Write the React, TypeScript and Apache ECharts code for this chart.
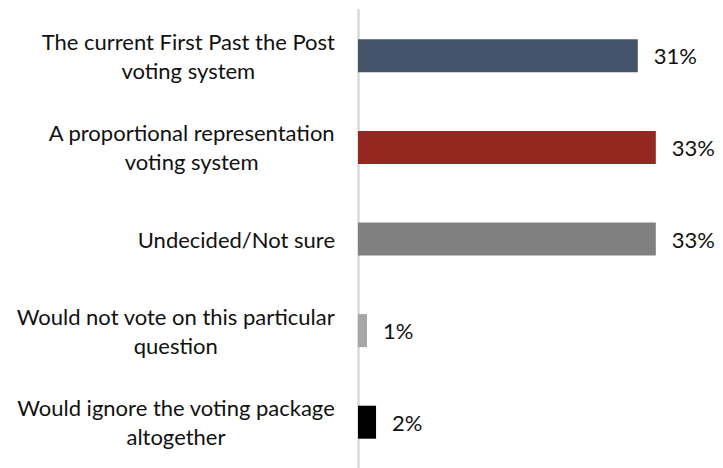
import React, { useEffect, useRef } from "react";
import * as echarts from "echarts";

const categories = [
  "The current First Past the Post\nvoting system",
  "A proportional representation\nvoting system",
  "Undecided/Not sure",
  "Would not vote on this particular\nquestion",
  "Would ignore the voting package\naltogether",
];
const values = [31, 33, 33, 1, 2];
const colors = ["#44546A", "#942720", "#808080", "#A6A6A6", "#000000"];

const FONT = "Lato";
const FS = 22;

export default function App() {
  const ref = useRef<HTMLDivElement>(null);
  useEffect(() => {
    if (!ref.current) return;
    const chart = echarts.init(ref.current, undefined, { renderer: "svg" });
    chart.setOption({
      animation: false,
      grid: { left: 358, top: 10, width: 361, height: 465, containLabel: false },
      xAxis: {
        type: "value",
        min: 0,
        max: 40,
        show: false,
      },
      yAxis: {
        type: "category",
        inverse: true,
        data: categories,
        axisLine: { show: true, lineStyle: { color: "#d9d9d9", width: 2.5 } },
        axisTick: { show: false },
        axisLabel: {
          margin: 23,
          formatter: (v: string) =>
            v
              .split("\n")
              .map((l) => `{c|${l}}`)
              .join("\n"),
          rich: {
            c: {
              align: "center",
              fontFamily: FONT,
              fontSize: FS,
              color: "#111111",
              lineHeight: 29,
            },
          },
        },
      },
      series: [
        {
          type: "bar",
          barWidth: 33,
          data: values.map((v, i) => ({ value: v, itemStyle: { color: colors[i] } })),
          label: {
            show: true,
            position: "right",
            distance: 16,
            formatter: "{c}%",
            fontFamily: FONT,
            fontSize: FS,
            color: "#111111",
          },
        },
      ],
    });
    return () => chart.dispose();
  }, []);
  return (
    <div
      ref={ref}
      style={{ position: "fixed", left: 0, top: 0, width: 723, height: 468, background: "#fff" }}
    />
  );
}
